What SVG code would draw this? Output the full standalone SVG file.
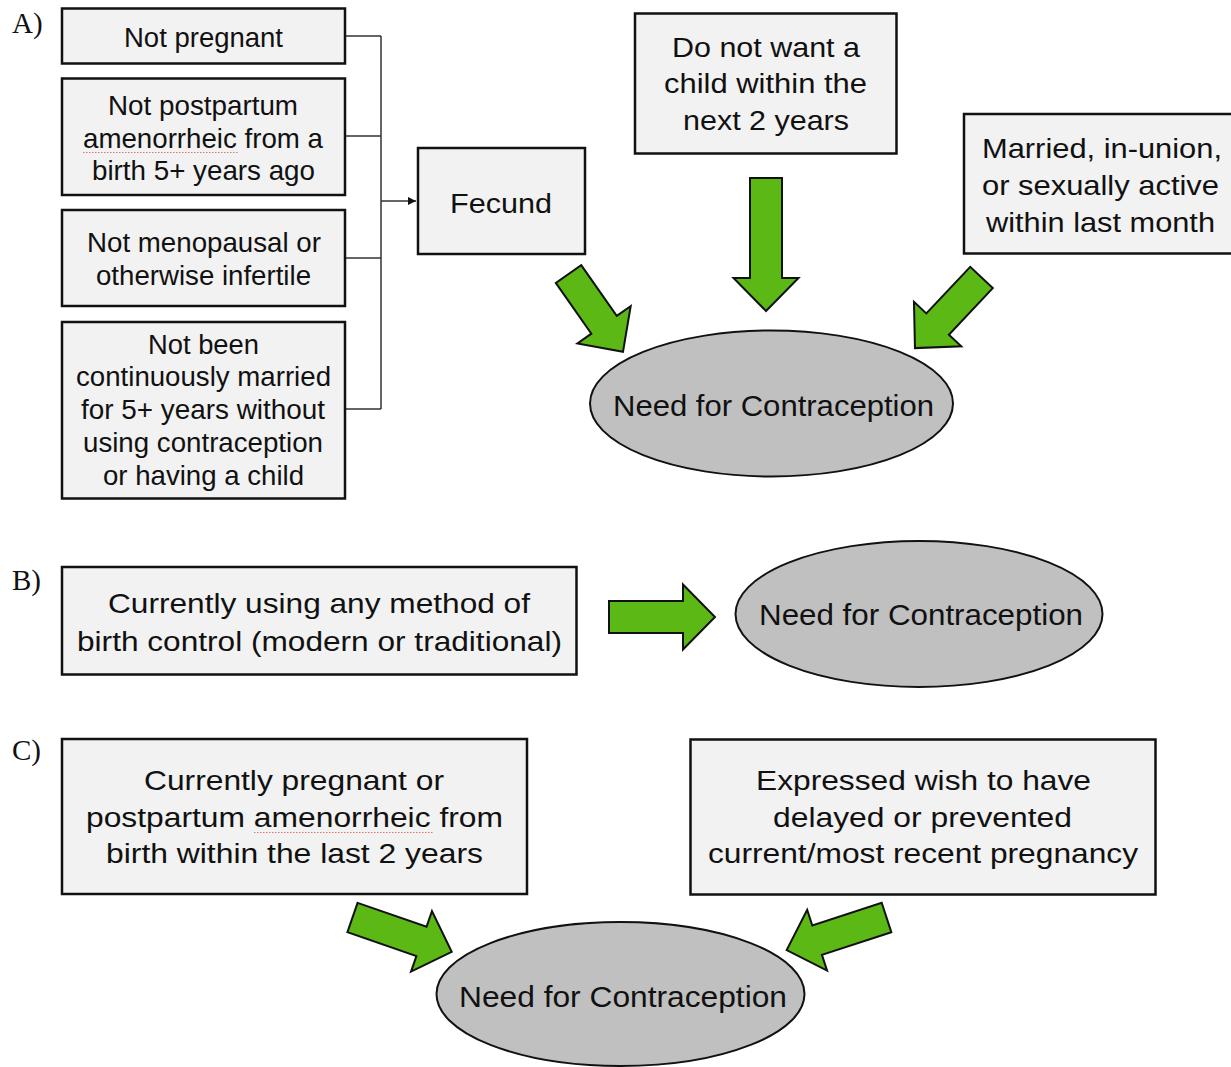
<svg xmlns="http://www.w3.org/2000/svg" width="1231" height="1067" viewBox="0 0 1231 1067">
<style>
.box{fill:#f2f2f2;stroke:#111;stroke-width:2.5}
.ell{fill:#c0c0c0;stroke:#111;stroke-width:2}
.t{font-family:"Liberation Sans",Arial,sans-serif;fill:#111;font-size:27.5px}
.te{font-family:"Liberation Sans",Arial,sans-serif;fill:#111;font-size:30px}
.lbl{font-family:"Liberation Serif","Times New Roman",serif;fill:#111;font-size:29px}
.arr{fill:#5cb815;stroke:#111;stroke-width:2;stroke-linejoin:miter}
.br{fill:none;stroke:#333;stroke-width:1.5}
.sq{fill:none;stroke:#e57373;stroke-width:1;stroke-dasharray:1.5 1.5}
</style>
<defs>
<marker id="ah" viewBox="0 0 10 10" refX="10" refY="5" markerWidth="8" markerHeight="8" markerUnits="userSpaceOnUse" orient="auto"><path d="M0,0 L10,5 L0,10 Z" fill="#111"/></marker>
</defs>
<rect width="1231" height="1067" fill="#fff"/>
<text class="lbl" x="12" y="33">A)</text>
<text class="lbl" x="12" y="590">B)</text>
<text class="lbl" x="12" y="760">C)</text>

<g id="connectors">
<path class="br" d="M345,36 H381 M345,136 H381 M345,258 H381 M345,409 H381 M381,36 V409"/>
<path class="br" d="M381,201 H416" marker-end="url(#ah)"/>
<path class="arr" transform="translate(568.5,274) rotate(55)" d="M0,-15.5 H62 V-32.5 L95,0 L62,32.5 V15.5 H0 Z"/>
<path class="arr" transform="translate(766,178) rotate(90)" d="M0,-16 H100 V-32.5 L133,0 L100,32.5 V16 H0 Z"/>
<path class="arr" transform="translate(981.5,277.5) rotate(133.3)" d="M0,-15.5 H64 V-32.5 L97,0 L64,32.5 V15.5 H0 Z"/>
<path class="arr" transform="translate(609,617)" d="M0,-16 H74 V-32.5 L106,0 L74,32.5 V16 H0 Z"/>
<path class="arr" transform="translate(352.5,917.5) rotate(19.1)" d="M0,-15.5 H73 V-32 L105,0 L73,32 V15.5 H0 Z"/>
<path class="arr" transform="translate(886.5,917.5) rotate(161.9)" d="M0,-15.5 H73 V-32 L105,0 L73,32 V15.5 H0 Z"/>
</g>

<g id="n-not-pregnant">
<rect class="box" x="62" y="8.5" width="283" height="55"/>
<text class="t" x="124" y="47" textLength="159" lengthAdjust="spacingAndGlyphs">Not pregnant</text>
</g>
<g id="n-not-postpartum">
<rect class="box" x="62" y="78.5" width="283" height="116.5"/>
<text class="t" x="108" y="115" textLength="190" lengthAdjust="spacingAndGlyphs">Not postpartum</text>
<text class="t" x="83" y="148" textLength="240" lengthAdjust="spacingAndGlyphs">amenorrheic from a</text>
<text class="t" x="92" y="180" textLength="223" lengthAdjust="spacingAndGlyphs">birth 5+ years ago</text>
<path class="sq" d="M83,152.5 H238"/>
</g>
<g id="n-not-menopausal">
<rect class="box" x="62" y="210" width="283" height="96"/>
<text class="t" x="87" y="252" textLength="234" lengthAdjust="spacingAndGlyphs">Not menopausal or</text>
<text class="t" x="96" y="285" textLength="215" lengthAdjust="spacingAndGlyphs">otherwise infertile</text>
</g>
<g id="n-not-married">
<rect class="box" x="62" y="322" width="283" height="176.5"/>
<text class="t" x="148" y="354" textLength="111" lengthAdjust="spacingAndGlyphs">Not been</text>
<text class="t" x="76" y="386" textLength="255" lengthAdjust="spacingAndGlyphs">continuously married</text>
<text class="t" x="81" y="419" textLength="244" lengthAdjust="spacingAndGlyphs">for 5+ years without</text>
<text class="t" x="83" y="452" textLength="240" lengthAdjust="spacingAndGlyphs">using contraception</text>
<text class="t" x="103" y="485" textLength="201" lengthAdjust="spacingAndGlyphs">or having a child</text>
</g>
<g id="n-fecund">
<rect class="box" x="418" y="148" width="167" height="106"/>
<text class="t" x="450" y="213" font-size="29" textLength="102" lengthAdjust="spacingAndGlyphs">Fecund</text>
</g>
<g id="n-no-child">
<rect class="box" x="635" y="13.5" width="261.5" height="140"/>
<text class="t" x="672" y="57" font-size="29" textLength="188" lengthAdjust="spacingAndGlyphs">Do not want a</text>
<text class="t" x="664" y="93" font-size="29" textLength="203" lengthAdjust="spacingAndGlyphs">child within the</text>
<text class="t" x="683" y="130" font-size="29" textLength="166" lengthAdjust="spacingAndGlyphs">next 2 years</text>
</g>
<g id="n-married">
<rect class="box" x="964" y="114" width="280" height="139.5"/>
<text class="t" x="982" y="158" font-size="29" textLength="240" lengthAdjust="spacingAndGlyphs">Married, in-union,</text>
<text class="t" x="982" y="195" font-size="29" textLength="237" lengthAdjust="spacingAndGlyphs">or sexually active</text>
<text class="t" x="986" y="232" font-size="29" textLength="229" lengthAdjust="spacingAndGlyphs">within last month</text>
</g>
<g id="n-need-a">
<ellipse class="ell" cx="771.5" cy="403.5" rx="181.5" ry="73"/>
<text class="te" x="613" y="416" textLength="321" lengthAdjust="spacingAndGlyphs">Need for Contraception</text>
</g>

<g id="n-using">
<rect class="box" x="62" y="567" width="514.5" height="107.5"/>
<text class="t" x="108" y="613" font-size="29" textLength="422" lengthAdjust="spacingAndGlyphs">Currently using any method of</text>
<text class="t" x="77" y="651" font-size="29" textLength="485" lengthAdjust="spacingAndGlyphs">birth control (modern or traditional)</text>
</g>
<g id="n-need-b">
<ellipse class="ell" cx="919" cy="614" rx="183.5" ry="73"/>
<text class="te" x="759" y="625" textLength="324" lengthAdjust="spacingAndGlyphs">Need for Contraception</text>
</g>

<g id="n-pregnant">
<rect class="box" x="62" y="739" width="465" height="155"/>
<text class="t" x="144" y="790" font-size="29" textLength="300" lengthAdjust="spacingAndGlyphs">Currently pregnant or</text>
<text class="t" x="86" y="827" font-size="29" textLength="417" lengthAdjust="spacingAndGlyphs">postpartum amenorrheic from</text>
<text class="t" x="106" y="863" font-size="29" textLength="377" lengthAdjust="spacingAndGlyphs">birth within the last 2 years</text>
<path class="sq" d="M254,832.5 H433"/>
</g>
<g id="n-wish">
<rect class="box" x="690.5" y="739.5" width="465" height="155"/>
<text class="t" x="756" y="790" font-size="29" textLength="335" lengthAdjust="spacingAndGlyphs">Expressed wish to have</text>
<text class="t" x="773" y="827" font-size="29" textLength="299" lengthAdjust="spacingAndGlyphs">delayed or prevented</text>
<text class="t" x="708" y="863" font-size="29" textLength="430" lengthAdjust="spacingAndGlyphs">current/most recent pregnancy</text>
</g>
<g id="n-need-c">
<ellipse class="ell" cx="620.5" cy="994" rx="184" ry="72"/>
<text class="te" x="459" y="1007" textLength="328" lengthAdjust="spacingAndGlyphs">Need for Contraception</text>
</g>
</svg>
